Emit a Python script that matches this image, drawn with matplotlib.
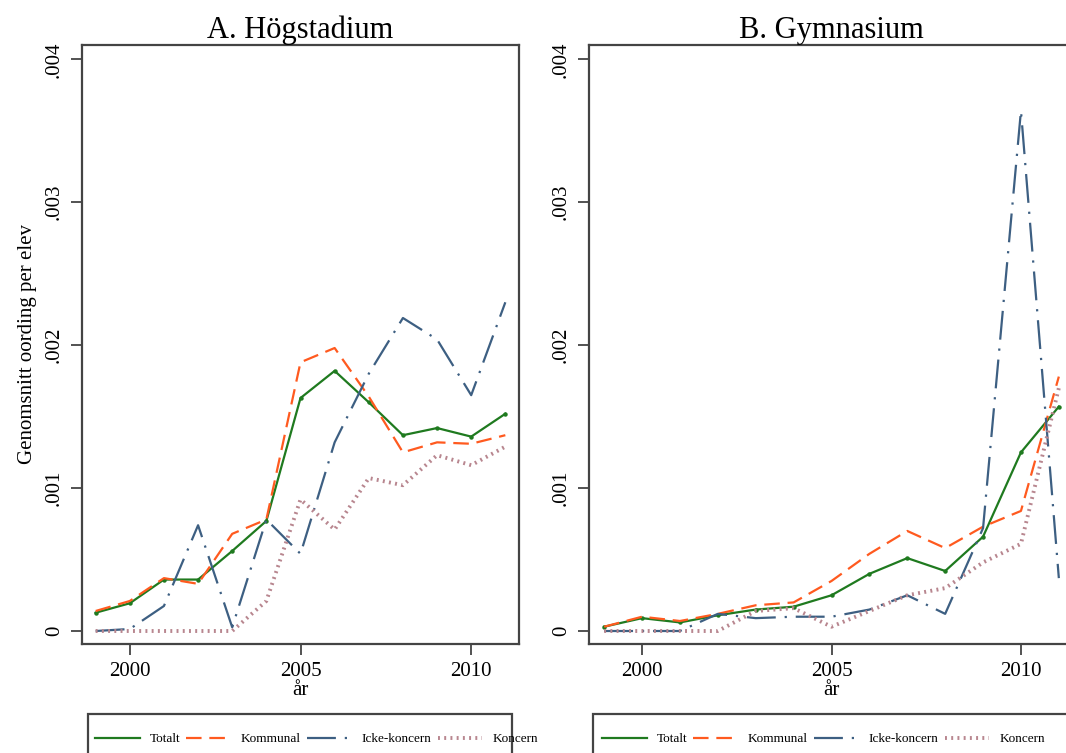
import matplotlib.pyplot as plt
from matplotlib.lines import Line2D
from matplotlib.patches import Rectangle

plt.rcParams['font.family'] = ['Liberation Serif', 'DejaVu Serif']

# ===================== 数据 =====================
years = list(range(1999, 2012))

# A. Högstadium
hog_totalt = [0.000128, 0.000194, 0.00036, 0.00036, 0.00056, 0.00077, 0.00163,
              0.00182, 0.00160, 0.00137, 0.00142, 0.00136, 0.00152]
hog_kommunal = [0.00014, 0.00021, 0.00037, 0.00033, 0.00068, 0.00078, 0.00188,
                0.00198, 0.00164, 0.00125, 0.00132, 0.00131, 0.00137]
hog_icke = [0.0, 0.000014, 0.000175, 0.00074, 0.000026, 0.00078, 0.00054,
            0.00132, 0.00180, 0.00219, 0.00204, 0.00165, 0.00230]
hog_koncern = [0.0, 0.0, 0.0, 0.0, 0.0, 0.00021, 0.00092,
               0.00071, 0.00107, 0.00102, 0.00123, 0.00116, 0.00129]

# B. Gymnasium
gym_totalt = [0.00003, 0.00009, 0.00006, 0.00011, 0.00015, 0.00017, 0.00025,
              0.00040, 0.00051, 0.00042, 0.00066, 0.00125, 0.00157]
gym_kommunal = [0.00003, 0.00010, 0.00007, 0.00012, 0.00018, 0.00020, 0.00035,
                0.00054, 0.00070, 0.00058, 0.00073, 0.00084, 0.00178]
gym_icke = [0.0, 0.0, 0.0, 0.00012, 0.00009, 0.00010, 0.00010,
            0.00015, 0.00025, 0.00012, 0.00072, 0.00364, 0.00037]
gym_koncern = [0.0, 0.0, 0.0, 0.0, 0.00014, 0.00016, 0.00003,
               0.00014, 0.00025, 0.00030, 0.00048, 0.00061, 0.00170]

labels = ["Totalt", "Kommunal", "Icke-koncern", "Koncern"]
yticks = [0, 0.001, 0.002, 0.003, 0.004]
ytick_labels = ["0", ".001", ".002", ".003", ".004"]
xticks = [2000, 2005, 2010]

# ===================== 样式 =====================
C_TOT = "#1f7a1f"
C_KOM = "#ff5a1f"
C_ICK = "#3d5f82"
C_KON = "#b8868f"
SPINE = "#444444"
STYLES = [
    dict(color=C_TOT, lw=1.6),
    dict(color=C_KOM, lw=1.6, linestyle=(0, (7, 3.5))),
    dict(color=C_ICK, lw=1.6, linestyle=(0, (13, 4, 1, 4))),
    dict(color=C_KON, lw=2.8, linestyle=(0, (0.5, 1.1))),
]

W, H = 1066, 753
fig = plt.figure(figsize=(W / 100, H / 100), dpi=100)


def px_axes(left, right, top, bottom):
    return fig.add_axes([left / W, (H - bottom) / H, (right - left) / W, (bottom - top) / H])


def draw_panel(ax, title, series, ylabel=None):
    for i, vals in enumerate(series):
        if i == 0:
            ax.plot(years, vals, marker="o", ms=2.2, **STYLES[i])
        else:
            ax.plot(years, vals, **STYLES[i])
    ax.set_xlim(1998.6, 2011.4)
    ax.set_ylim(-0.0000909, 0.0041)
    ax.set_xticks(xticks)
    ax.set_yticks(yticks)
    ax.set_yticklabels(ytick_labels, rotation=90, va="center")
    ax.tick_params(axis="both", direction="out", length=8, width=1.3, color=SPINE,
                   labelsize=15, pad=5)
    for s in ax.spines.values():
        s.set_color(SPINE)
        s.set_linewidth(1.6)
    ax.set_title(title, fontsize=22, pad=4)
    ax.set_xlabel("år", fontsize=15, labelpad=0)
    if ylabel:
        ax.set_ylabel(ylabel, fontsize=15, labelpad=6)


ax1 = px_axes(82, 519, 45, 644)
draw_panel(ax1, "A. Högstadium", [hog_totalt, hog_kommunal, hog_icke, hog_koncern],
           ylabel="Genomsnitt oording per elev")

ax2 = px_axes(589, 1074, 45, 644)
draw_panel(ax2, "B. Gymnasium", [gym_totalt, gym_kommunal, gym_icke, gym_koncern])

# legend boxes (cut off at bottom, like the screenshot)
handles = [Line2D([], [], **st) for st in STYLES]
for x0, x1 in [(88, 512), (593, 1100)]:
    fig.patches.append(Rectangle((x0 / W, -0.05), (x1 - x0) / W, (H - 714) / H + 0.05,
                                 transform=fig.transFigure, fill=False,
                                 edgecolor=SPINE, lw=1.6))

for x0 in [95, 602]:
    fig.legend(handles, labels, loc="center left", bbox_to_anchor=(x0 / W, (H - 739) / H),
               ncol=4, frameon=False, fontsize=9.5, handlelength=3.4,
               handletextpad=0.75, columnspacing=0.45, borderpad=0, borderaxespad=0)

plt.savefig("out.png", dpi=100)
plt.close()
